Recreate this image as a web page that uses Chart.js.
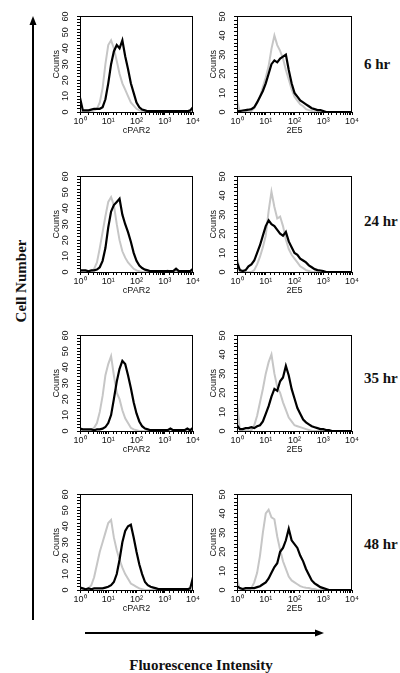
<!DOCTYPE html>
<html>
<head>
<meta charset="utf-8">
<script src="https://cdn.jsdelivr.net/npm/chart.js@4.4.1/dist/chart.umd.min.js"></script>
<style>
  body { margin: 0; background: #fff; width: 400px; height: 673px; position: relative; overflow: hidden; }
  canvas { position: absolute; }
  .lbl { position: absolute; font: bold 15px "Liberation Serif", "Times New Roman", serif; color: #111; white-space: nowrap; line-height: 15px; }
  #cellNumber { left: 21px; top: 281px; transform: translate(-50%, -50%) rotate(-90deg); }
  #fluor { left: 201px; top: 665px; transform: translate(-50%, -50%); }
  svg { position: absolute; left: 0; top: 0; }
</style>
</head>
<body>
<svg width="400" height="673">
  <line x1="33" y1="620" x2="33" y2="24" stroke="#000" stroke-width="2"/>
  <polygon points="33,16 29.5,25 36.5,25" fill="#000"/>
  <line x1="85" y1="633" x2="316" y2="633" stroke="#000" stroke-width="2"/>
  <polygon points="324,633 315,629.5 315,636.5" fill="#000"/>
</svg>
<div class="lbl" id="cellNumber">Cell Number</div>
<div class="lbl" id="fluor">Fluorescence Intensity</div>
<div class="lbl" style="left:364px;top:57px">6 hr</div>
<div class="lbl" style="left:364px;top:214px">24 hr</div>
<div class="lbl" style="left:364px;top:371px">35 hr</div>
<div class="lbl" style="left:364px;top:537px">48 hr</div>

<script>
// canales de fluorescencia (escala log, 10 por década)
const xChannels = [1, 1.26, 1.58, 2.0, 2.51, 3.16, 3.98, 5.01, 6.31, 7.94,
                   10, 12.6, 15.8, 20.0, 25.1, 31.6, 39.8, 50.1, 63.1, 79.4,
                   100, 126, 158, 200, 251, 316, 398, 501, 631, 794,
                   1000, 1259, 1585, 1995, 2512, 3162, 3981, 5012, 6310, 7943, 10000];

const timeLabels = ['6 hr', '24 hr', '35 hr', '48 hr'];
const markerNames = ['cPAR2', '2E5'];
const countsMax = [60, 50]; // eje y: cPAR2, 2E5

// cPAR2 - control (gris) y tinción (negro)
const cpar2Ctrl6 = [0,0,0,0,0, 1,2,6,15,30, 42,45,40,32,24, 18,14,10,6,4, 2,1,0.5,0.3,0.3, 0.3,0.2,0.2,0.2,0.2, 0,0,0,0,0, 0,0,0,0,0, 0];
const cpar2Stain6 = [9,1,1,1,1.5, 2,2,2,3,8, 18,30,38,42,40, 45,35,27,18,12, 6,3,1.5,1,0.5, 0.5,0.5,0.5,0.5,0.5, 0.5,0.5,0.5,0.5,0.5, 0.5,0.5,0.5,0.5,1, 3];
const cpar2Ctrl24 = [0,0,0,0,0, 2,6,15,25,35, 44,47,42,30,20, 13,9,6,4,2, 1,0.5,0,0,0, 0,0,0,0,0, 0,1,0,0,0, 0,0,0,0,0, 0];
const cpar2Stain24 = [1,1,1,0.5,1, 1,1.5,3,7,15, 28,38,42,44,46, 36,30,25,19,12, 7,4,2.5,1.5,1, 0.5,0.5,0.5,0.5,0.5, 0.5,0.5,0.5,0.5,2, 0.5,0.5,0.5,0.5,0.5, 2];
const cpar2Ctrl35 = [0,0,0,0,0.5, 2,5,12,22,35, 42,47,35,24,20, 13,8,5,2,1, 0.5,0,0,0,0, 0,0,0,0,0, 0,0,0,0,0, 0,0,0,0,0, 0];
const cpar2Stain35 = [1.5,1,1,1,1, 0.5,1,1,1.5,2.5, 5,10,20,31,39, 44,42,35,27,18, 11,6,3,1.5,1, 0.5,0.5,0.5,0.5,0.5, 0.5,0.5,1.5,0.5,0.5, 0.5,0.5,0.5,1.5,0.5, 2];
const cpar2Ctrl48 = [0,0,0,1,3, 8,16,24,30,36, 42,44,33,25,19, 14,10,7,4,3, 2,1,0.5,0,0, 0,0,0,0,0, 0,0,0,0,0, 0,0,0,0,0, 0];
const cpar2Stain48 = [1.5,1,0.5,1,0.5, 1,1,1,1,1.5, 2,3,5,10,19, 30,37,40,41,33, 24,16,10,5,3, 2,1.5,1,0.5,0.5, 0.5,0.5,0.5,0.5,0.5, 0.5,0.5,0.5,0.5,1, 8];

// 2E5 - control (gris) y tinción (negro)
const e25Ctrl6 = [6,0,0,0,0, 0.5,2,5,8,13, 18,24,33,40,35, 32,28,22,17,12, 8,6,4,3,1.5, 1,0.5,0,0,0, 0,0,0,0,0, 0,0,0,0,0, 0];
const e25Stain6 = [0.5,0.5,0.8,1,1.2, 1.5,2.5,5,8,11, 15,20,25,27,26, 28,29,30,22,15, 10,8,6,5,4, 3,2,1.5,1,1, 0.5,0,0,0,0, 0,0,0,0,0, 0];
const e25Ctrl24 = [8,0,0,0,0, 0,1,4,8,13, 19,32,42,34,28, 29,24,17,12,9, 7,5,3,2,1, 0.5,0,0,0,0, 0,0,0,0,0, 0,0,0,0,0, 0];
const e25Stain24 = [5,1,0.5,1,3, 4,6,10,14,19, 24,27,25,24,22, 20,19,21,16,13, 10,9,7,6,5, 3.5,2.5,1.5,1,0.8, 0.5,0,0,0,0, 0,0,0,0,0, 0];
const e25Ctrl35 = [15,0,0,0,0, 0.5,3,8,15,22, 30,36,40,30,23, 20,15,11,7,5, 3,2.5,2,1.5,1, 0.5,0,0,0,0, 0,0,0,0,0, 0,0,0,0,0, 0];
const e25Stain35 = [3,1,1,1.5,1.5, 2,1.5,2.5,3,5, 9,13,18,22,21, 26,28,34,29,22, 17,12,9,6,4.5, 3.5,2.5,2,1.5,1, 1,0.5,0.5,0,0, 0,0,0,0,0, 0];
const e25Ctrl48 = [6,0,0,0,0, 1,4,9,18,30, 40,42,38,37,28, 21,15,11,7,5, 4,3,2,1.5,1.2, 1,0.5,0.5,0,0, 0,0,0,0,0, 0,0,0,0,0, 0];
const e25Stain48 = [2,1,0.5,1,1, 1,1,1.5,2,3, 4,6,9,12,14, 20,22,26,32,26, 24,22,18,15,11, 8,5,3.5,2.5,1.5, 1,0.5,0,0,0, 0,0,0,0,0, 0];

const ctrlSeries = [[cpar2Ctrl6, e25Ctrl6], [cpar2Ctrl24, e25Ctrl24], [cpar2Ctrl35, e25Ctrl35], [cpar2Ctrl48, e25Ctrl48]];
const stainSeries = [[cpar2Stain6, e25Stain6], [cpar2Stain24, e25Stain24], [cpar2Stain35, e25Stain35], [cpar2Stain48, e25Stain48]];

// posición de cada recuadro en la página
const rowTops = [12, 172, 331, 490];
const colLefts = [80, 237];
const colWidths = [113, 115];
const boxHeight = 100;

const Y_AXIS_W = 29, X_AXIS_H = 24, PAD_TOP = 7, PAD_LEFT = 1, PAD_RIGHT = 10;

Chart.defaults.font.family = "'Liberation Sans', Arial, sans-serif";
Chart.defaults.font.size = 9;
Chart.defaults.color = '#111';

const SUP = {'0': '\u2070', '1': '\u00B9', '2': '\u00B2', '3': '\u00B3', '4': '\u2074'};

// marco completo alrededor del área del gráfico
const frame = {
    id: 'frame',
    afterDraw(chart) {
        const {ctx, chartArea: a} = chart;
        ctx.save();
        ctx.strokeStyle = '#000';
        ctx.lineWidth = 1;
        ctx.strokeRect(Math.round(a.left) + 0.5, Math.round(a.top) + 0.5, Math.round(a.right - a.left) - 1, Math.round(a.bottom - a.top));
        ctx.restore();
    }
};

function toPoints(arr) {
    return xChannels.map((x, i) => ({x: x, y: arr[i]}));
}

function makePanel(row, col) {
    const boxL = colLefts[col], boxT = rowTops[row], boxW = colWidths[col];
    const canvas = document.createElement('canvas');
    const w = boxW + Y_AXIS_W + PAD_LEFT + PAD_RIGHT;
    const h = boxHeight + PAD_TOP + X_AXIS_H;
    canvas.width = w;
    canvas.height = h;
    canvas.style.left = (boxL - Y_AXIS_W - PAD_LEFT) + 'px';
    canvas.style.top = (boxT - PAD_TOP) + 'px';
    document.body.appendChild(canvas);

    new Chart(canvas, {
        type: 'line',
        data: {
            datasets: [
                { // tinción (encima)
                    data: toPoints(stainSeries[row][col]),
                    borderColor: '#000',
                    borderWidth: 2.2,
                    pointRadius: 0,
                    tension: 0,
                    fill: false
                },
                { // control isotipo
                    data: toPoints(ctrlSeries[row][col]),
                    borderColor: '#c6c6c6',
                    borderWidth: 2,
                    pointRadius: 0,
                    tension: 0,
                    fill: false
                }
            ]
        },
        options: {
            responsive: false,
            animation: false,
            layout: { padding: { left: PAD_LEFT, top: PAD_TOP, right: PAD_RIGHT, bottom: 0 } },
            plugins: { legend: { display: false }, tooltip: { enabled: false } },
            scales: {
                x: {
                    type: 'logarithmic',
                    min: 1,
                    max: 10000,
                    afterFit: (s) => { s.height = X_AXIS_H; },
                    grid: { drawOnChartArea: false, tickLength: 3, color: '#000', tickColor: '#000' },
                    border: { display: true, color: '#000' },
                    ticks: {
                        autoSkip: false,
                        maxRotation: 0,
                        minRotation: 0,
                        padding: 1,
                        color: '#111',
                        callback: (v) => {
                            const e = Math.log10(v);
                            if (Math.abs(e - Math.round(e)) < 1e-6) return '10' + SUP[String(Math.round(e))];
                            return '';
                        }
                    },
                    title: { display: true, text: markerNames[col], color: '#111', padding: 0, font: { size: 9 } }
                },
                y: {
                    min: 0,
                    max: countsMax[col],
                    afterFit: (s) => { s.width = Y_AXIS_W; },
                    grid: { drawOnChartArea: false, tickLength: 3, color: '#000', tickColor: '#000' },
                    border: { display: true, color: '#000' },
                    ticks: {
                        stepSize: 2,
                        autoSkip: false,
                        minRotation: 90,
                        maxRotation: 90,
                        crossAlign: 'center',
                        padding: 6,
                        color: '#111',
                        callback: (v) => (v % 10 === 0 ? String(v) : '')
                    },
                    title: { display: true, text: 'Counts', color: '#111', padding: 0, font: { size: 9 } }
                }
            }
        },
        plugins: [frame]
    });
}

for (let r = 0; r < timeLabels.length; r++) {
    for (let c = 0; c < markerNames.length; c++) {
        makePanel(r, c);
    }
}
</script>
</body>
</html>
